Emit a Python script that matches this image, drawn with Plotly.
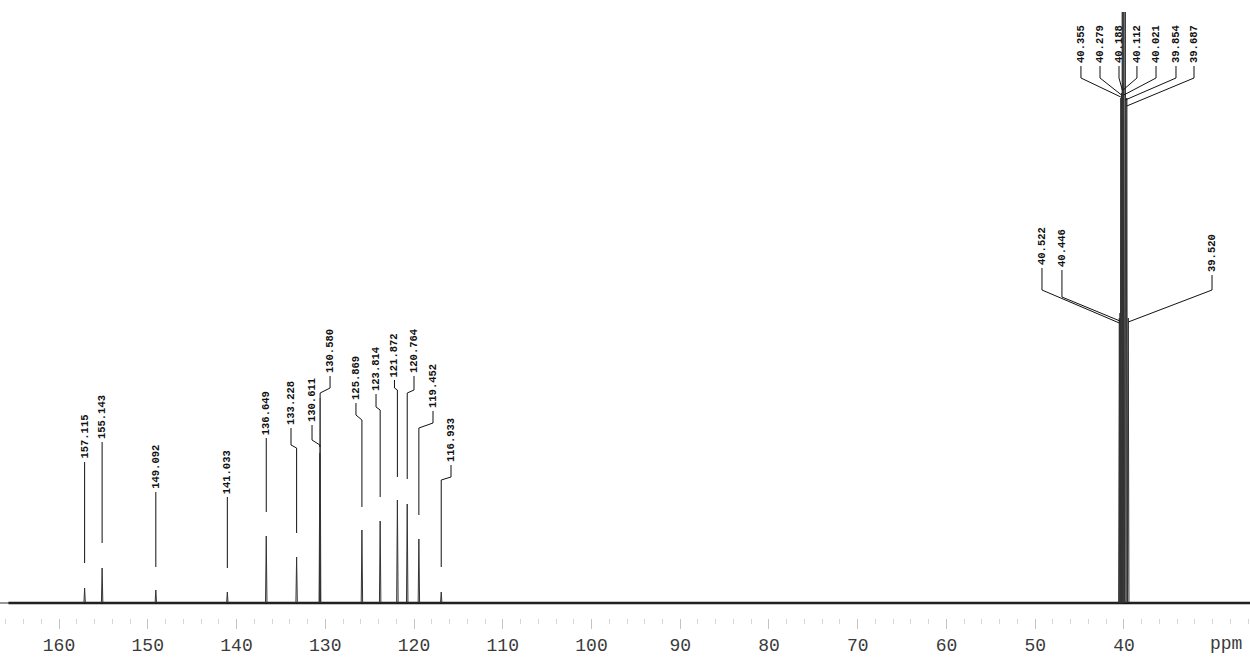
import plotly.graph_objects as go

# ---------------- data ----------------
# aromatic / sample peaks (ppm) and intensities (arbitrary units)
peak_ppm = [157.115, 155.143, 149.092, 141.033, 136.649, 133.228, 130.611,
            130.580, 125.869, 123.814, 121.872, 120.764, 119.452, 116.933]
peak_int = [15, 35, 13, 11, 67, 46, 150, 205, 73, 82, 103, 99, 64, 11]

# solvent (DMSO-d6) multiplet
dmso_ppm = [40.522, 40.446, 40.355, 40.279, 40.188, 40.112, 40.021,
            39.854, 39.687, 39.520]
dmso_int = [285, 290, 505, 510, 591, 520, 591, 591, 505, 285]

x_ticks = [160, 150, 140, 130, 120, 110, 100, 90, 80, 70, 60, 50, 40]
x_unit = "ppm"

# ---------------- label layout (leader lines) ----------------
# value, label x (ppm), leader top, bend at label, bend at peak, tip
label_value = peak_ppm + dmso_ppm
label_x = [157.115, 155.143, 149.092, 141.033, 136.649, 133.86, 131.49,
           129.46, 126.54, 124.28, 122.2, 120.0, 117.86, 115.83,
           49.24, 46.99, 44.85, 42.70, 40.56, 38.54, 36.39, 34.14, 32.11, 30.08]
lead_top = [141, 161, 111, 106, 165, 175, 178, 227, 200, 209, 223, 227, 192, 138,
            335, 333, 537, 537, 537, 537, 537, 537, 537, 328]
bend_a = [141, 161, 111, 106, 165, 158, 163, 215, 188, 196, 215, 213, 180, 126,
          313, 306, 525, 525, 525, 525, 525, 525, 525, 313]
bend_b = [141, 161, 111, 106, 165, 155, 158, 210, 183, 193, 213, 210, 175, 123,
          280, 282, 506, 508, 513, 513, 508, 503, 497, 281]
lead_tip = [40, 60, 36, 35, 91, 70, 156, 205, 96, 106, 126, 124, 88, 36,
            280, 282, 506, 508, 513, 513, 508, 503, 497, 281]

x_left, x_right = 166.65, 25.8
peak_halfwidth = 0.08

# ---------------- build spectrum ----------------
all_p = sorted(zip(peak_ppm + dmso_ppm, peak_int + dmso_int), key=lambda t: -t[0])
sx, sy = [x_left + 0.0], [0]
for p, h in all_p:
    sx += [p + peak_halfwidth, p, p - peak_halfwidth]
    sy += [0, h, 0]
sx.append(x_right)
sy.append(0)

fig = go.Figure()
fig.add_trace(go.Scatter(x=[165.7, x_right], y=[0, 0], mode="lines",
                         line=dict(color="#111", width=2.6), hoverinfo="skip"))
fig.add_trace(go.Scatter(x=sx, y=sy, mode="lines",
                         line=dict(color="#333", width=1), hoverinfo="skip"))

# leader lines
lx, ly = [], []
for v, x0, t, a, b, tip in zip(label_value, label_x, lead_top, bend_a, bend_b, lead_tip):
    lx += [x0, x0, v, v, None]
    ly += [t, a, b, tip, None]
fig.add_trace(go.Scatter(x=lx, y=ly, mode="lines",
                         line=dict(color="#111", width=1), hoverinfo="skip"))

annotations = []
for v, x0, t in zip(label_value, label_x, lead_top):
    annotations.append(dict(
        x=x0, y=t + 2, xref="x", yref="y", text=f"<b>{v:.3f}</b>",
        textangle=-90, showarrow=False, xanchor="center", yanchor="bottom",
        font=dict(family="Liberation Mono", size=10.5, color="#111"),
        borderpad=0))
annotations.append(dict(x=28.5, y=-0.022, xref="x", yref="paper", text=x_unit,
                        showarrow=False, xanchor="center", yanchor="top",
                        font=dict(family="Liberation Mono", size=18, color="#3a3a3a")))

fig.update_layout(
    width=1250, height=664,
    margin=dict(l=0, r=0, t=0, b=46),
    plot_bgcolor="white", paper_bgcolor="white",
    showlegend=False,
    annotations=annotations,
    xaxis=dict(range=[x_left, x_right], tickvals=x_ticks,
               ticktext=[str(v) for v in x_ticks],
               ticks="outside", ticklen=10, tickcolor="#c4c4c4", tickwidth=1,
               minor=dict(dtick=2, ticklen=5, tickcolor="#d6d6d6", ticks="outside"),
               showgrid=False, zeroline=False, showline=False,
               tickfont=dict(family="Liberation Mono", size=18, color="#3a3a3a")),
    yaxis=dict(range=[-15, 603], visible=False),
)

fig.write_html("out.html",
               config={"displayModeBar": False},
               post_script="document.body.style.margin='0';"
                           "document.body.style.overflow='hidden';")
